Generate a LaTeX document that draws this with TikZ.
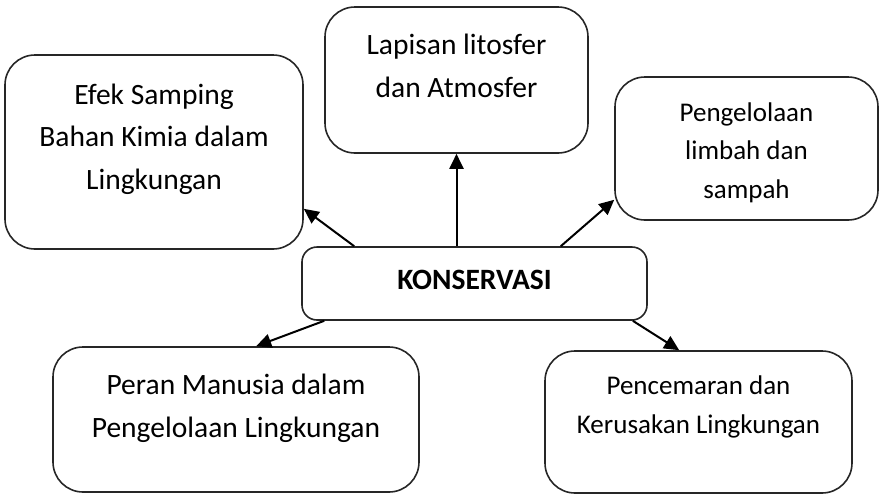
\documentclass[tikz,border=0pt]{standalone}
\usepackage{fontspec}
\setmainfont{Carlito}
\usetikzlibrary{arrows.meta}
\tikzset{
  topic/.style={rectangle,rounded corners=30pt,draw=black!85,line width=1.6pt,
    align=center,inner sep=0pt,font=\fontsize{29.5}{42.5}\selectfont},
  smalltopic/.style={topic,font=\fontsize{27}{38.5}\selectfont},
  core/.style={rectangle,rounded corners=15pt,draw=black!85,line width=1.6pt,
    align=center,inner sep=0pt,font=\fontsize{29.5}{35}\selectfont\bfseries},
  link/.style={-{Triangle[length=15pt,width=14pt]},line width=2pt}}
\begin{document}
\begin{tikzpicture}[x=1pt,y=-1pt]
  \useasboundingbox (0,0) rectangle (879,496);
  \node[core,minimum width=345pt,text height=42.5pt,text depth=30.5pt] (kons) at (474.5,283.5) {KONSERVASI};
  \node[topic,minimum width=298pt,text height=134pt,text depth=60pt] (efek) at (154,152)
    {Efek Samping\\Bahan Kimia dalam\\Lingkungan};
  \node[topic,minimum width=263pt,text height=90pt,text depth=56pt] (lapis) at (456.5,80)
    {Lapisan litosfer\\dan Atmosfer};
  \node[smalltopic,minimum width=263pt,text height=121pt,text depth=22pt] (limbah) at (746.5,148.5)
    {Pengelolaan\\limbah dan\\sampah};
  \node[topic,minimum width=366pt,text height=90pt,text depth=55pt] (peran) at (236,419.5)
    {Peran Manusia dalam\\Pengelolaan Lingkungan};
  \node[smalltopic,minimum width=307pt,text height=82pt,text depth=60pt] (cemar) at (698.5,422)
    {Pencemaran dan\\Kerusakan Lingkungan};
  \draw[link] ([xshift=53pt]kons.north west) -- ([yshift=41pt]efek.south east);
  \draw[link] (lapis.south |- kons.north) -- (lapis.south);
  \draw[link] ([xshift=-87pt]kons.north east) -- ([yshift=21pt]limbah.south west);
  \draw[link] ([xshift=23pt]kons.south west) -- ([xshift=204pt]peran.north west);
  \draw[link] ([xshift=-15pt]kons.south east) -- ([xshift=135pt]cemar.north west);
\end{tikzpicture}
\end{document}
